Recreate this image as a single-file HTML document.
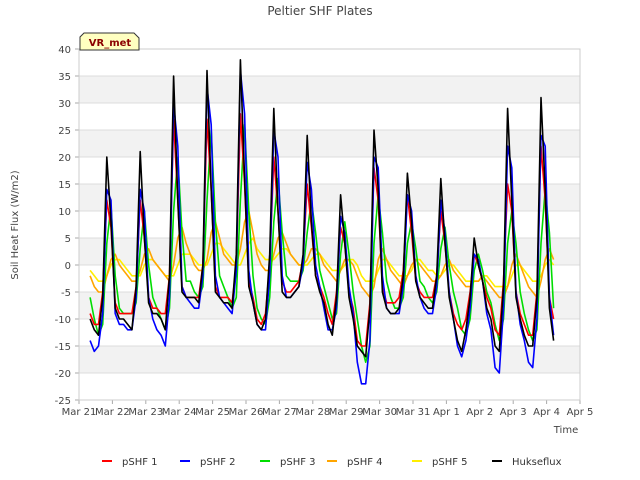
<!DOCTYPE html>
<html><head><meta charset="utf-8"><style>
html,body{margin:0;padding:0;background:#fff;}
svg{display:block;font-family:"DejaVu Sans","Liberation Sans",sans-serif;}
</style></head><body>
<svg id="chart" width="640" height="480" viewBox="0 0 640 480">
<rect x="0" y="0" width="640" height="480" fill="#fff"/>
<g id="bands"></g>
<g id="grid"></g>
<g id="series"></g>
<g id="axes"></g>
<text x="320" y="15" text-anchor="middle" font-size="12" fill="#444">Peltier SHF Plates</text>
<text x="18" y="225" text-anchor="middle" font-size="10" fill="#444" transform="rotate(-90 18 225)">Soil Heat Flux (W/m2)</text>
<text x="566" y="433" text-anchor="middle" font-size="10" fill="#444">Time</text>
<g>
<path d="M84,33 L134,33 L139,38 L139,50 L80,50 L80,37 Z" fill="#ffffc0" stroke="#333" stroke-width="1"/>
<text x="110" y="46" text-anchor="middle" font-size="10" font-weight="bold" fill="#8b0000">VR_met</text>
</g>
<g id="legend"></g>
</svg>
<script>
const yTicks=[-25,-20,-15,-10,-5,0,5,10,15,20,25,30,35,40];
const xTickLabels=["Mar 21","Mar 22","Mar 23","Mar 24","Mar 25","Mar 26","Mar 27","Mar 28","Mar 29","Mar 30","Mar 31","Apr 1","Apr 2","Apr 3","Apr 4","Apr 5"];
const seriesNames=["pSHF 1","pSHF 2","pSHF 3","pSHF 4","pSHF 5","Hukseflux"];
const startHour=8; const stepHours=3;
const pSHF1=[-9,-11,-11,-5,12,7,-7,-9, -9,-9,-9,-4,12,5,-6,-8, -8,-9,-9,-2,27,12,-4,-6, -6,-6,-6,0,27,14,-4,-6, -6,-6,-7,0,28,15,-3,-6, -10,-11,-9,0,20,10,-3,-5, -5,-4,-3,1,15,7,-2,-4, -6,-9,-11,-5,7,4,-5,-8, -14,-15,-15,-7,18,12,-4,-7, -7,-7,-6,-1,13,6,-3,-5, -6,-6,-6,-2,10,4,-5,-9, -11,-12,-10,-5,2,0,-3,-6, -8,-12,-13,-3,15,10,-5,-9, -11,-13,-13,-5,22,12,-6,-10];
const pSHF2=[-14,-16,-15,-9,14,12,-9,-11, -11,-12,-12,-6,14,10,-6,-10, -12,-13,-15,-6,30,22,-4,-6, -7,-8,-8,-2,33,26,-2,-6, -7,-8,-9,-1,36,28,-1,-7, -11,-12,-12,-2,25,20,-2,-6, -6,-5,-4,0,19,14,0,-4, -8,-12,-12,-8,9,6,-4,-9, -18,-22,-22,-14,20,18,-2,-8, -9,-9,-9,-4,13,10,-2,-6, -8,-9,-9,-4,12,6,-5,-10, -15,-17,-14,-8,2,1,-3,-9, -12,-19,-20,-8,22,18,-5,-11, -14,-18,-19,-10,24,22,-6,-13];
const pSHF3=[-6,-10,-13,-11,4,11,-2,-8, -9,-9,-9,-7,3,10,0,-6, -8,-10,-12,-8,10,20,6,-3, -3,-5,-6,-4,12,25,8,-2, -4,-6,-8,-6,12,26,10,-2, -8,-10,-11,-6,8,16,6,-2, -3,-3,-3,-1,6,12,6,-1, -4,-7,-10,-9,2,8,2,-5, -10,-15,-18,-15,4,13,6,-3, -6,-8,-8,-6,4,8,3,-3, -4,-6,-7,-5,3,7,0,-5, -8,-12,-13,-10,-1,2,-1,-5, -7,-11,-14,-10,4,10,4,-5, -9,-12,-14,-12,4,14,6,-8];
const pSHF4=[-2,-4,-5,-5,-2,1,2,0, -1,-2,-3,-3,-1,2,3,1, 0,-1,-2,-3,0,5,7,4, 2,0,-1,-1,1,6,8,5, 2,1,0,0,3,8,10,6, 2,0,-1,-1,2,5,6,4, 2,1,0,0,1,3,3,2, 0,-1,-2,-3,-1,1,1,0, -2,-4,-5,-6,-4,1,3,1, -1,-2,-3,-4,-2,0,1,0, -1,-2,-3,-3,-2,0,1,-1, -2,-3,-4,-4,-3,-3,-2,-3, -4,-5,-6,-6,-4,0,2,0, -2,-4,-5,-6,-3,1,3,1];
const pSHF5=[-1,-2,-3,-3,-2,0,1,1, 0,-1,-2,-2,-2,0,1,1, 0,-1,-2,-2,-2,0,2,2, 2,1,0,0,0,2,4,4, 3,2,1,0,0,2,4,5, 3,2,1,1,1,2,3,3, 2,1,0,0,0,1,2,2, 1,0,-1,-1,-1,0,1,1, 0,-2,-3,-3,-3,-1,1,1, 0,-1,-2,-2,-2,-1,1,1, 0,-1,-1,-2,-2,-1,0,0, -1,-2,-3,-3,-3,-3,-2,-2, -3,-4,-4,-4,-4,-2,0,0, -1,-2,-3,-3,-2,0,1,0];
const hukseflux=[-10,-12,-13,-6,20,8,-8,-10, -10,-11,-12,-4,21,5,-7,-9, -9,-10,-12,-2,35,12,-5,-6, -6,-6,-7,0,36,14,-5,-6, -7,-7,-8,2,38,16,-4,-7, -11,-12,-10,2,29,10,-5,-6, -6,-5,-4,2,24,8,-2,-5, -7,-11,-13,-6,13,4,-6,-10, -15,-16,-17,-8,25,14,-5,-8, -9,-9,-8,-2,17,8,-3,-6, -7,-8,-8,-2,16,4,-6,-10, -14,-16,-12,-6,5,0,-3,-8, -10,-15,-16,-4,29,12,-6,-10, -13,-15,-15,-6,31,14,-8,-14];
const colors=["#ff0000","#0000ff","#00dd00","#ffa500","#ffee00","#000000"];
const L=79,R=580,T=49,B=400,ymin=-25,ymax=40,days=15;
const NS="http://www.w3.org/2000/svg";
function xs(d){return L+(d/days)*(R-L);}
function ys(v){return B-(v-ymin)/(ymax-ymin)*(B-T);}
function mk(tag,attrs,parent){const e=document.createElementNS(NS,tag);for(const k in attrs)e.setAttribute(k,attrs[k]);parent.appendChild(e);return e;}
const bands=document.getElementById('bands'),grid=document.getElementById('grid'),axes=document.getElementById('axes'),ser=document.getElementById('series'),leg=document.getElementById('legend');
for(let v=-20;v<40;v+=10){const r=mk('rect',{x:L,y:ys(v+5),width:R-L,height:ys(v)-ys(v+5),fill:'#f2f2f2'},bands);

}
yTicks.forEach(v=>{const l=mk('line',{x1:L,x2:R,y1:ys(v),y2:ys(v),stroke:'#dcdcdc','stroke-width':1},grid);


const t=mk('text',{x:L-8,y:ys(v)+4,'text-anchor':'end','font-size':10,fill:'#444'},axes);t.textContent=v;


const tk=mk('line',{x1:L-4,x2:L,y1:ys(v),y2:ys(v),stroke:'#aaa'},axes);

});
xTickLabels.forEach((s,i)=>{const tk=mk('line',{x1:xs(i),x2:xs(i),y1:B,y2:B+4,stroke:'#aaa'},axes);


const t=mk('text',{x:xs(i),y:B+15,'text-anchor':'middle','font-size':10,fill:'#444'},axes);t.textContent=s;

});
const frame=mk('rect',{x:L,y:T,width:R-L,height:B-T,fill:'none',stroke:'#ccc'},axes);


const all=[pSHF1,pSHF2,pSHF3,pSHF4,pSHF5,hukseflux];
const order=[4,3,2,0,1,5];
order.forEach(si=>{const arr=all[si];let d='';arr.forEach((v,i)=>{const day=(startHour+i*stepHours)/24;d+=(i?'L':'M')+xs(day).toFixed(1)+','+ys(v).toFixed(1);});
const p=mk('path',{d:d,fill:'none',stroke:colors[si],'stroke-width':1.6,'stroke-linejoin':'round'},ser);

});
const legX=[102,180,260,327,412,492];
seriesNames.forEach((n,i)=>{const g=mk('g',{},leg);


mk('line',{x1:legX[i],x2:legX[i]+10,y1:461,y2:461,stroke:colors[i],'stroke-width':2},g);
const t=mk('text',{x:legX[i]+20,y:465,'font-size':10,fill:'#333'},g);t.textContent=n;});
</script>
</body></html>
